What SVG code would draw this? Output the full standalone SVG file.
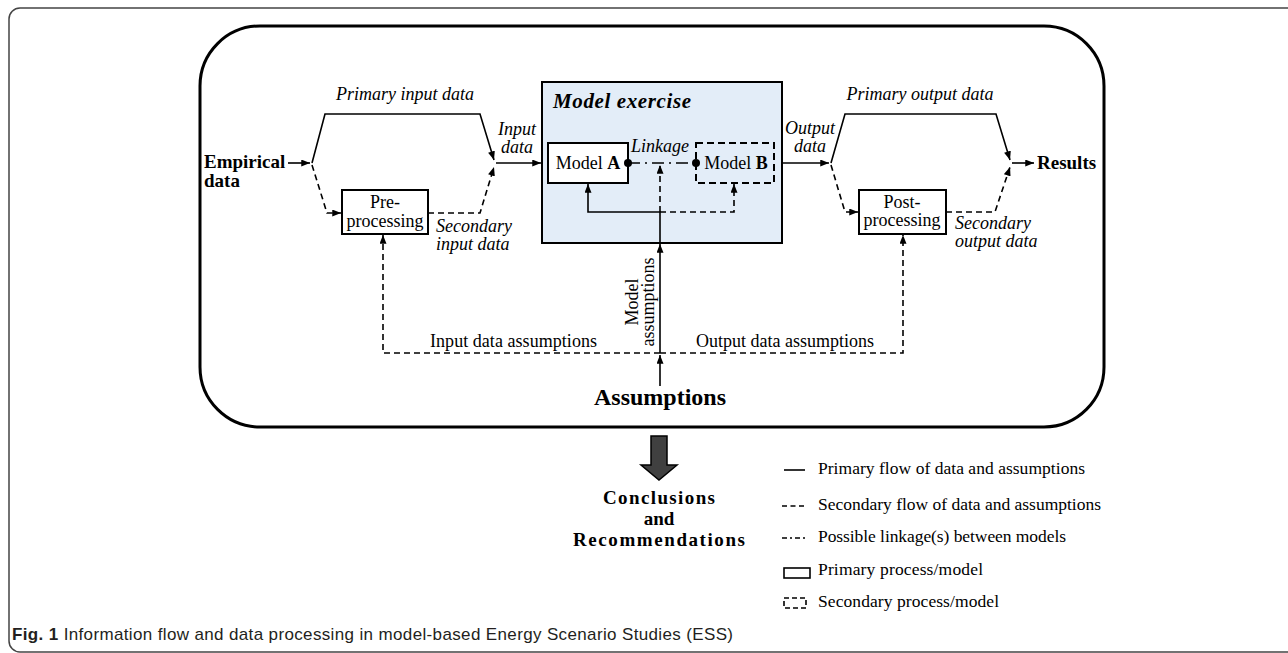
<svg xmlns="http://www.w3.org/2000/svg" width="1288" height="653" viewBox="0 0 1288 653">
<style>
text{font-family:"Liberation Serif","DejaVu Serif",serif;fill:#000;font-size:18px}
.b{font-weight:bold}
.i{font-style:italic}
.m{text-anchor:middle}
.big{font-size:19px}
.lg{font-size:17.5px}
.ccl{font-size:19px}
.ln{fill:none;stroke:#000;stroke-width:1.6}
.d{stroke-dasharray:6 4}
.dd{stroke-dasharray:12 5 2 5}
.box{fill:#fff;stroke:#000;stroke-width:2}
.cap{font-family:"Liberation Sans","Open Sans",sans-serif;font-size:17px;fill:#231f20}
</style>
<defs>
<marker id="ah" viewBox="0 0 10 8" refX="10" refY="4" markerWidth="9" markerHeight="7" markerUnits="userSpaceOnUse" orient="auto">
<path d="M0,0 L10,4 L0,8 z" fill="#000"/>
</marker>
</defs>
<rect width="1288" height="653" fill="#fff"/>
<path d="M1300,8 H20 A11,11 0 0 0 9,19 V641 A11,11 0 0 0 20,652 H1300" fill="none" stroke="#444" stroke-width="1.5"/>
<rect x="200" y="26" width="904" height="401" rx="60" ry="60" fill="none" stroke="#000" stroke-width="3"/>

<g id="empirical">
<text class="b big" x="204" y="168">Empirical</text>
<text class="b big" x="204" y="187">data</text>
</g>
<g id="preprocessing">
<rect class="box" x="342" y="190" width="86" height="44"/>
<text class="m" x="385" y="208">Pre-</text>
<text class="m" x="385" y="227">processing</text>
</g>
<g id="model-exercise">
<rect x="542" y="82" width="240" height="161" fill="#e3edf8" stroke="#000" stroke-width="2"/>
<text class="b i" x="553" y="108" style="font-size:21px" textLength="138">Model exercise</text>
</g>
<g id="model-a">
<rect class="box" x="548" y="143" width="80" height="40"/>
<text class="m" x="588" y="169">Model <tspan class="b">A</tspan></text>
</g>
<g id="model-b">
<rect x="696" y="143" width="78" height="40" fill="none" stroke="#000" stroke-width="2" stroke-dasharray="7 4"/>
<text class="m" x="736" y="169">Model <tspan class="b">B</tspan></text>
</g>
<g id="postprocessing">
<rect class="box" x="859" y="190" width="87" height="44"/>
<text class="m" x="902" y="208">Post-</text>
<text class="m" x="902" y="226">processing</text>
</g>
<g id="results">
<text class="b big" x="1037" y="169">Results</text>
</g>
<g id="assumptions">
<text class="b m" x="660" y="405" style="font-size:24px">Assumptions</text>
</g>
<g id="conclusions">
<path d="M651,436 H667 V465 H677 L659,480 L641,465 H651 Z" fill="#404040" stroke="#000" stroke-width="1.5"/>
<text class="b m ccl" x="659" y="504" textLength="112">Conclusions</text>
<text class="b m ccl" x="659" y="525">and</text>
<text class="b m ccl" x="659" y="546" textLength="172">Recommendations</text>
</g>

<g id="connectors">
<line class="ln" x1="288" y1="163" x2="310" y2="163" marker-end="url(#ah)"/>
<polyline class="ln" points="312,163 325,114 480,114 494,160" marker-end="url(#ah)"/>
<polyline class="ln d" points="312,165 327,213 341,213" marker-end="url(#ah)"/>
<polyline class="ln d" points="428,213 480,213 494,167" marker-end="url(#ah)"/>
<line class="ln" x1="496" y1="163" x2="541" y2="163" marker-end="url(#ah)"/>
<line class="ln" x1="782" y1="163" x2="829" y2="163" marker-end="url(#ah)"/>
<polyline class="ln" points="831,163 845,114 996,114 1010,160" marker-end="url(#ah)"/>
<polyline class="ln d" points="831,165 845,212 858,212" marker-end="url(#ah)"/>
<polyline class="ln d" points="946,212 995,212 1010,167" marker-end="url(#ah)"/>
<line class="ln" x1="1012" y1="163" x2="1034" y2="163" marker-end="url(#ah)"/>
<line class="ln dd" x1="628" y1="163" x2="696" y2="163"/>
<circle cx="628" cy="163" r="4" fill="#000"/>
<circle cx="696" cy="163" r="4" fill="#000"/>
<polyline class="ln" points="660,243 660,212 588,212 588,184" marker-end="url(#ah)"/>
<polyline class="ln d" points="660,212 734,212 734,184" marker-end="url(#ah)"/>
<line class="ln d" x1="660" y1="212" x2="660" y2="165" marker-end="url(#ah)"/>
<line class="ln" x1="660" y1="353" x2="660" y2="244" marker-end="url(#ah)"/>
<line class="ln" x1="660" y1="386" x2="660" y2="355" marker-end="url(#ah)"/>
<polyline class="ln d" points="660,353 383,353 383,235" marker-end="url(#ah)"/>
<polyline class="ln d" points="660,353 903,353 903,235" marker-end="url(#ah)"/>
</g>

<g id="labels">
<text class="i m" x="405" y="100">Primary input data</text>
<text class="i m" x="517" y="135">Input</text>
<text class="i m" x="517" y="153">data</text>
<text class="i" x="436" y="232">Secondary</text>
<text class="i" x="436" y="250">input data</text>
<text class="i m" x="660" y="152">Linkage</text>
<text class="i m" x="810" y="134">Output</text>
<text class="i m" x="810" y="152">data</text>
<text class="i m" x="920" y="100">Primary output data</text>
<text class="i" x="955" y="229">Secondary</text>
<text class="i" x="955" y="247">output data</text>
<text x="430" y="347" textLength="167">Input data assumptions</text>
<text x="696" y="347" textLength="178">Output data assumptions</text>
<text class="m" transform="translate(638,302) rotate(-90)">Model</text>
<text class="m" transform="translate(654,302) rotate(-90)">assumptions</text>
</g>

<g id="legend">
<line class="ln" x1="784" y1="470" x2="805" y2="470"/>
<line class="ln" x1="782" y1="506" x2="806" y2="506" stroke-dasharray="5 3.5"/>
<line class="ln" x1="782" y1="538" x2="806" y2="538" stroke-dasharray="5 3 2 3"/>
<rect x="784" y="568" width="26" height="10" fill="none" stroke="#000" stroke-width="1.6"/>
<rect x="784" y="598" width="22" height="10" fill="none" stroke="#000" stroke-width="1.6" stroke-dasharray="5 3"/>
<text class="lg" x="818" y="474" textLength="267">Primary flow of data and assumptions</text>
<text class="lg" x="818" y="510" textLength="283">Secondary flow of data and assumptions</text>
<text class="lg" x="818" y="542" textLength="248">Possible linkage(s) between models</text>
<text class="lg" x="818" y="575" textLength="165">Primary process/model</text>
<text class="lg" x="818" y="607" textLength="181">Secondary process/model</text>
</g>

<g id="caption">
<text class="cap" x="12" y="640" textLength="721"><tspan font-weight="bold">Fig. 1</tspan> Information flow and data processing in model-based Energy Scenario Studies (ESS)</text>
</g>
</svg>
